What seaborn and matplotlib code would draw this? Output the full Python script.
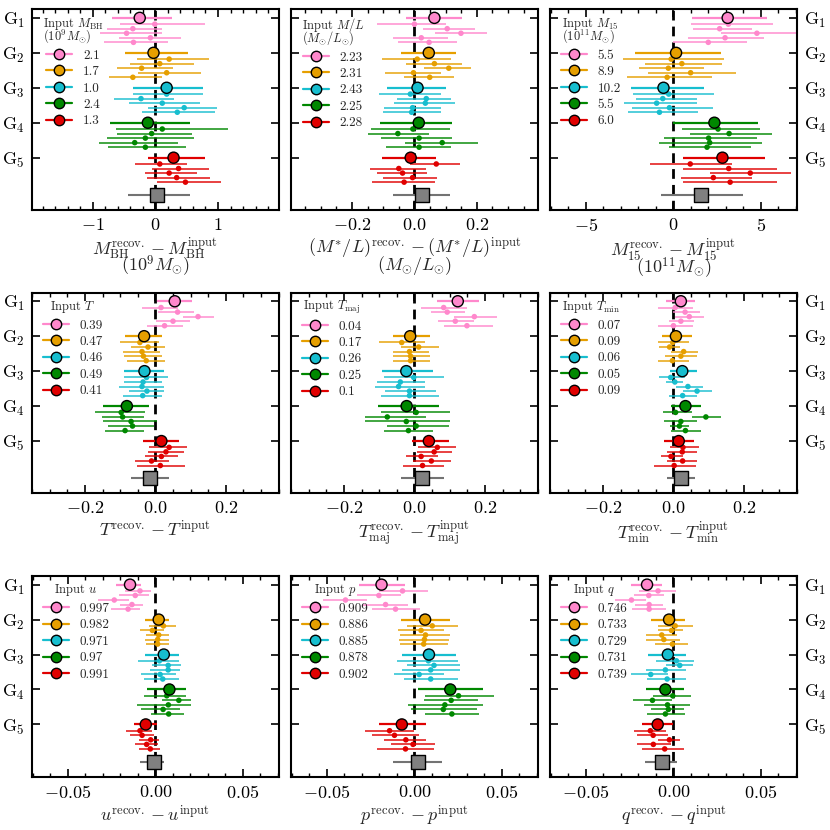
import numpy as np
import pandas as pd
import matplotlib
matplotlib.use("Agg")
import matplotlib.pyplot as plt
import seaborn as sns
from matplotlib.lines import Line2D
from matplotlib.ticker import MultipleLocator

sns.set_theme(style="ticks")
plt.rcParams.update({
    "font.family": "serif",
    "font.serif": ["cmr10"],
    "mathtext.fontset": "cm",
    "axes.formatter.use_mathtext": True,
    "axes.unicode_minus": True,
    "axes.linewidth": 1.5,
    "axes.edgecolor": "black",
})

group_names = [r"$\mathrm{G}_1$", r"$\mathrm{G}_2$", r"$\mathrm{G}_3$", r"$\mathrm{G}_4$", r"$\mathrm{G}_5$"]
group_colors = ["#ff88cc", "#e69f00", "#17becf", "#008800", "#e00000"]

# each row: [group mean, run 1..5]
mbh_val = [[-0.25, -0.01, -0.36, -0.46, -0.08, -0.35],
           [-0.03, 0.22, 0.07, -0.22, 0.18, -0.36],
           [0.18, 0.18, -0.23, 0.11, 0.46, 0.35],
           [-0.12, 0.11, -0.06, -0.16, -0.33, -0.16],
           [0.29, 0.07, 0.37, 0.22, 0.34, 0.48]]
mbh_lo = [[-0.69, -0.56, -0.77, -0.88, -0.58, -0.82],
          [-0.48, -0.29, -0.40, -0.61, -0.28, -0.74],
          [-0.36, -0.36, -0.66, -0.42, -0.12, -0.21],
          [-0.72, -0.63, -0.62, -0.77, -0.90, -0.76],
          [-0.12, -0.33, -0.05, -0.17, -0.14, 0.02]]
mbh_hi = [[0.26, 0.80, 0.11, 0.11, 0.41, 0.20],
          [0.52, 0.86, 0.61, 0.28, 0.73, 0.11],
          [0.76, 0.76, 0.29, 0.71, 0.98, 0.95],
          [0.56, 1.16, 0.59, 0.61, 0.36, 0.49],
          [0.79, 0.51, 0.86, 0.66, 0.88, 1.05]]
mbh_ref = [0.02, -0.44, 0.56]
mbh_inputs = ["2.1", "1.7", "1.0", "2.4", "1.3"]

ml_val = [[0.064, 0.0, 0.105, 0.149, 0.022, 0.047],
          [0.046, 0.009, 0.064, 0.110, -0.003, 0.049],
          [0.010, -0.013, 0.038, 0.035, -0.006, -0.009],
          [0.014, -0.005, -0.053, 0.015, 0.089, 0.015],
          [-0.012, 0.070, -0.050, -0.038, -0.006, -0.033]]
ml_lo = [[-0.026, -0.119, 0.026, 0.065, -0.068, -0.052],
         [-0.044, -0.104, -0.026, 0.030, -0.095, -0.034],
         [-0.087, -0.114, -0.055, -0.066, -0.099, -0.102],
         [-0.109, -0.139, -0.148, -0.107, -0.031, -0.091],
         [-0.103, -0.015, -0.143, -0.121, -0.100, -0.136]]
ml_hi = [[0.153, 0.102, 0.193, 0.233, 0.107, 0.136],
         [0.134, 0.118, 0.153, 0.182, 0.086, 0.127],
         [0.102, 0.086, 0.118, 0.129, 0.084, 0.085],
         [0.121, 0.115, 0.047, 0.121, 0.203, 0.118],
         [0.068, 0.147, 0.038, 0.040, 0.072, 0.065]]
ml_ref = [0.024, -0.068, 0.113]
ml_inputs = ["2.23", "2.31", "2.43", "2.25", "2.28"]

m15_val = [[3.10, 3.14, 2.64, 4.77, 2.95, 1.99],
           [0.15, -0.13, 0.48, -0.29, 0.98, -0.36],
           [-0.57, -0.27, -0.61, -0.96, -0.23, -0.80],
           [2.34, 2.55, 3.18, 2.01, 2.07, 1.92],
           [2.80, 0.96, 3.16, 4.39, 2.28, 3.24]]
m15_lo = [[1.05, 0.98, 1.11, 2.70, 0.84, 0.0],
          [-2.22, -2.91, -1.61, -1.99, -1.48, -2.68],
          [-2.45, -2.34, -2.15, -2.80, -2.38, -2.57],
          [0.0, 0.48, 0.92, -0.56, -0.80, -0.23],
          [0.54, -1.32, 0.57, 2.11, 0.44, 0.57]]
m15_hi = [[5.33, 5.71, 4.48, 7.2, 5.17, 4.23],
          [2.70, 2.87, 2.80, 1.72, 3.60, 2.22],
          [1.72, 2.30, 1.34, 1.34, 2.26, 1.40],
          [4.85, 4.94, 5.61, 4.75, 5.04, 4.43],
          [5.21, 3.37, 5.94, 6.70, 4.48, 5.94]]
m15_ref = [1.57, -0.73, 3.98]
m15_inputs = ["5.5", "8.9", "10.2", "5.5", "6.0"]

t_val = [[0.055, 0.016, 0.063, 0.121, 0.050, 0.026],
         [-0.032, -0.044, -0.021, -0.038, -0.034, -0.026],
         [-0.031, -0.025, -0.035, -0.038, -0.024, -0.036],
         [-0.081, -0.097, -0.093, -0.069, -0.065, -0.086],
         [0.017, 0.039, 0.030, 0.017, -0.011, 0.014]]
t_lo = [[0.005, -0.038, 0.008, 0.079, 0.002, -0.024],
        [-0.086, -0.100, -0.070, -0.092, -0.088, -0.080],
        [-0.088, -0.088, -0.090, -0.103, -0.076, -0.093],
        [-0.150, -0.171, -0.152, -0.148, -0.135, -0.143],
        [-0.034, -0.017, -0.022, -0.030, -0.059, -0.052]]
t_hi = [[0.103, 0.065, 0.110, 0.165, 0.097, 0.078],
        [0.019, 0.010, 0.026, 0.014, 0.019, 0.026],
        [0.024, 0.036, 0.019, 0.024, 0.024, 0.019],
        [-0.017, -0.029, -0.031, 0.005, -0.005, -0.031],
        [0.067, 0.091, 0.081, 0.065, 0.038, 0.083]]
t_ref = [-0.015, -0.069, 0.038]
t_inputs = ["0.39", "0.47", "0.46", "0.49", "0.41"]

tmaj_val = [[0.123, 0.083, 0.093, 0.170, 0.116, 0.149],
            [-0.012, -0.036, 0.012, -0.014, -0.011, -0.011],
            [-0.023, -0.002, -0.040, -0.045, -0.014, -0.014],
            [-0.022, 0.005, -0.077, -0.023, 0.005, -0.017],
            [0.041, 0.065, 0.056, 0.019, 0.048, 0.023]]
tmaj_lo = [[0.064, 0.020, 0.048, 0.111, 0.067, 0.085],
           [-0.062, -0.100, -0.037, -0.062, -0.060, -0.060],
           [-0.091, -0.086, -0.107, -0.112, -0.084, -0.096],
           [-0.103, -0.096, -0.141, -0.141, -0.077, -0.086],
           [-0.008, 0.010, 0.006, -0.024, -0.004, -0.032]]
tmaj_hi = [[0.184, 0.149, 0.144, 0.233, 0.170, 0.223],
           [0.045, 0.031, 0.071, 0.040, 0.043, 0.045],
           [0.054, 0.084, 0.030, 0.031, 0.062, 0.069],
           [0.070, 0.101, 0.034, 0.100, 0.097, 0.052],
           [0.097, 0.119, 0.106, 0.067, 0.104, 0.085]]
tmaj_ref = [0.022, -0.038, 0.084]
tmaj_inputs = ["0.04", "0.17", "0.26", "0.25", "0.1"]

tmin_val = [[0.021, 0.005, 0.033, 0.045, 0.021, 0.0],
            [0.007, -0.002, -0.011, 0.029, 0.021, -0.003],
            [0.025, -0.008, 0.004, 0.041, 0.067, 0.026],
            [0.034, 0.006, 0.092, 0.021, 0.017, 0.034],
            [0.015, 0.027, 0.025, -0.007, 0.026, 0.002]]
tmin_lo = [[-0.021, -0.043, 0.0, 0.005, -0.014, -0.043],
           [-0.033, -0.043, -0.040, -0.008, -0.024, -0.043],
           [-0.011, -0.040, -0.021, 0.008, 0.028, -0.012],
           [-0.006, -0.030, 0.053, -0.026, -0.009, -0.006],
           [-0.026, -0.011, -0.017, -0.036, -0.017, -0.055]]
tmin_hi = [[0.062, 0.055, 0.074, 0.087, 0.058, 0.055],
           [0.053, 0.045, 0.019, 0.071, 0.068, 0.044],
           [0.068, 0.033, 0.028, 0.085, 0.110, 0.066],
           [0.079, 0.052, 0.134, 0.068, 0.045, 0.078],
           [0.057, 0.072, 0.066, 0.026, 0.068, 0.064]]
tmin_ref = [0.021, -0.019, 0.062]
tmin_inputs = ["0.07", "0.09", "0.06", "0.05", "0.09"]

u_val = [[-0.0145, -0.0088, -0.0115, -0.0235, -0.0134, -0.0156],
         [0.0019, 0.0046, -0.0017, 0.0019, 0.0013, 0.0013],
         [0.0048, 0.0023, 0.0073, 0.0073, 0.0027, 0.0042],
         [0.0080, 0.0065, 0.0134, 0.0074, 0.0044, 0.0076],
         [-0.0055, -0.0088, -0.0076, -0.0027, -0.0050, -0.0029]]
u_lo = [[-0.0225, -0.0172, -0.0206, -0.0330, -0.0204, -0.0254],
        [-0.0057, -0.0034, -0.0088, -0.0052, -0.0057, -0.0053],
        [-0.0061, -0.0101, -0.0019, -0.0032, -0.0084, -0.0067],
        [-0.0048, -0.0065, 0.0038, -0.0105, -0.0080, -0.0023],
        [-0.0124, -0.0166, -0.0143, -0.0095, -0.0118, -0.0095]]
u_hi = [[-0.0080, -0.0023, -0.0038, -0.0149, -0.0073, -0.0086],
        [0.0080, 0.0115, 0.0050, 0.0080, 0.0076, 0.0080],
        [0.0137, 0.0134, 0.0149, 0.0139, 0.0115, 0.0137],
        [0.0176, 0.0177, 0.0206, 0.0206, 0.0143, 0.0162],
        [0.0010, -0.0019, -0.0010, 0.0023, 0.0015, 0.0029]]
u_ref = [-0.0010, -0.0090, 0.0052]
u_inputs = ["0.997", "0.982", "0.971", "0.97", "0.991"]

p_val = [[-0.0188, -0.0068, -0.0203, -0.0394, -0.0165, -0.0108],
         [0.0061, 0.0102, 0.0038, 0.0063, 0.0057, 0.0053],
         [0.0083, 0.0080, 0.0112, 0.0093, 0.0027, 0.0093],
         [0.0205, 0.0252, 0.0210, 0.0174, 0.0165, 0.0214],
         [-0.0072, -0.0142, -0.0114, -0.0049, -0.0008, -0.0051]]
p_lo = [[-0.0318, -0.0205, -0.0326, -0.0523, -0.0292, -0.0244],
        [-0.0078, -0.0040, -0.0093, -0.0080, -0.0089, -0.0083],
        [-0.0072, -0.0102, -0.0042, -0.0072, -0.0117, -0.0059],
        [0.0023, 0.0063, 0.0053, -0.0036, -0.0017, 0.0061],
        [-0.0201, -0.0282, -0.0241, -0.0172, -0.0134, -0.0216]]
p_hi = [[-0.0053, 0.0076, -0.0074, -0.0269, -0.0036, 0.0030],
        [0.0201, 0.0250, 0.0167, 0.0205, 0.0197, 0.0191],
        [0.0235, 0.0250, 0.0261, 0.0258, 0.0167, 0.0248],
        [0.0394, 0.0456, 0.0366, 0.0390, 0.0356, 0.0371],
        [0.0068, -0.0004, 0.0025, 0.0068, 0.0117, 0.0110]]
p_ref = [0.0019, -0.0121, 0.0157]
p_inputs = ["0.909", "0.886", "0.885", "0.878", "0.902"]

q_val = [[-0.0151, -0.0088, -0.0141, -0.0240, -0.0139, -0.0139],
         [-0.0025, 0.0010, -0.0011, -0.0067, -0.0055, -0.0006],
         [-0.0032, 0.0017, 0.0036, -0.0046, -0.0130, -0.0036],
         [-0.0046, -0.0004, -0.0120, -0.0034, -0.0029, -0.0046],
         [-0.0090, -0.0132, -0.0116, -0.0023, -0.0115, -0.0050]]
q_lo = [[-0.0244, -0.0198, -0.0225, -0.0332, -0.0218, -0.0235],
        [-0.0126, -0.0088, -0.0088, -0.0158, -0.0158, -0.0107],
        [-0.0145, -0.0097, -0.0044, -0.0158, -0.0242, -0.0149],
        [-0.0155, -0.0116, -0.0231, -0.0170, -0.0130, -0.0153],
        [-0.0179, -0.0227, -0.0208, -0.0086, -0.0208, -0.0177]]
q_hi = [[-0.0063, 0.0017, -0.0055, -0.0158, -0.0059, -0.0044],
        [0.0065, 0.0109, 0.0055, 0.0021, 0.0040, 0.0086],
        [0.0069, 0.0116, 0.0109, 0.0074, -0.0031, 0.0069],
        [0.0059, 0.0103, -0.0011, 0.0097, 0.0061, 0.0065],
        [-0.0002, -0.0040, -0.0031, 0.0038, -0.0015, 0.0061]]
q_ref = [-0.0067, -0.0164, 0.0021]
q_inputs = ["0.746", "0.733", "0.729", "0.731", "0.739"]

panels = [
    (mbh_val, mbh_lo, mbh_hi, mbh_ref, mbh_inputs,
     "Input $M_{\\rm BH}$\n$(10^9 M_{\\odot})$",
     "$M_{\\rm BH}^{\\rm recov.} - M_{\\rm BH}^{\\rm input}$\n$(10^9 M_{\\odot})$",
     1.97, 1.0, 0.2),
    (ml_val, ml_lo, ml_hi, ml_ref, ml_inputs,
     "Input $M/L$\n$(M_{\\odot}/L_{\\odot})$",
     "$(M^{*}/L)^{\\rm recov.} - (M^{*}/L)^{\\rm input}$\n$(M_{\\odot}/L_{\\odot})$",
     0.395, 0.2, 0.05),
    (m15_val, m15_lo, m15_hi, m15_ref, m15_inputs,
     "Input $M_{15}$\n$(10^{11} M_{\\odot})$",
     "$M_{15}^{\\rm recov.} - M_{15}^{\\rm input}$\n$(10^{11} M_{\\odot})$",
     7.05, 5.0, 1.0),
    (t_val, t_lo, t_hi, t_ref, t_inputs, "Input $T$",
     "$T^{\\rm recov.} - T^{\\rm input}$", 0.35, 0.2, 0.05),
    (tmaj_val, tmaj_lo, tmaj_hi, tmaj_ref, tmaj_inputs, "Input $T_{\\rm maj}$",
     "$T_{\\rm maj}^{\\rm recov.} - T_{\\rm maj}^{\\rm input}$", 0.35, 0.2, 0.05),
    (tmin_val, tmin_lo, tmin_hi, tmin_ref, tmin_inputs, "Input $T_{\\rm min}$",
     "$T_{\\rm min}^{\\rm recov.} - T_{\\rm min}^{\\rm input}$", 0.35, 0.2, 0.05),
    (u_val, u_lo, u_hi, u_ref, u_inputs, "Input $u$",
     "$u^{\\rm recov.} - u^{\\rm input}$", 0.0705, 0.05, 0.01),
    (p_val, p_lo, p_hi, p_ref, p_inputs, "Input $p$",
     "$p^{\\rm recov.} - p^{\\rm input}$", 0.0705, 0.05, 0.01),
    (q_val, q_lo, q_hi, q_ref, q_inputs, "Input $q$",
     "$q^{\\rm recov.} - q^{\\rm input}$", 0.0705, 0.05, 0.01),
]


def panel_frame(val, lo, hi):
    rows = []
    for g in range(5):
        for k in range(6):
            y = g if k == 0 else g + 0.18 + 0.13 * (k - 1)
            rows.append({"x": val[g][k], "lo": lo[g][k], "hi": hi[g][k], "y": y,
                         "group": g, "mean": k == 0})
    return pd.DataFrame(rows)


fig, axes = plt.subplots(3, 3, figsize=(8.3, 8.3), dpi=100)
fig.subplots_adjust(left=0.0386, right=0.960, top=0.989, bottom=0.064,
                    wspace=0.05, hspace=0.41)

for i, (ax, spec) in enumerate(zip(axes.flat, panels)):
    val, lo, hi, ref, inputs, title, xlabel, xmax, major, minor = spec
    df = panel_frame(val, lo, hi)
    runs = df[~df["mean"]]
    means = df[df["mean"]]

    ax.axvline(0, color="black", ls="--", lw=2, dashes=(3.5, 2.2), zorder=1)

    for _, r in runs.iterrows():
        ax.hlines(r["y"], r["lo"], r["hi"], color=group_colors[int(r["group"])],
                  lw=1.3, alpha=0.8, zorder=2)
    for _, r in means.iterrows():
        ax.hlines(r["y"], r["lo"], r["hi"], color=group_colors[int(r["group"])],
                  lw=1.6, zorder=2)

    sns.scatterplot(data=runs, x="x", y="y", hue="group", palette=group_colors,
                    s=16, linewidth=0, legend=False, ax=ax, zorder=3)
    sns.scatterplot(data=means, x="x", y="y", hue="group", palette=group_colors,
                    s=64, edgecolor="black", linewidth=1.0, legend=False, ax=ax, zorder=4)

    ax.hlines(5.07, ref[1], ref[2], color="0.45", lw=1.5, zorder=2)
    ax.scatter([ref[0]], [5.07], marker="s", s=100, color="0.5",
               edgecolor="black", linewidth=1.0, zorder=4)

    ax.set_xlim(-xmax, xmax)
    ax.set_ylim(5.5, -0.25)
    ax.xaxis.set_major_locator(MultipleLocator(major))
    ax.xaxis.set_minor_locator(MultipleLocator(minor))
    ax.set_yticks(range(5))
    ax.set_yticklabels(group_names)
    ax.set_xlabel(xlabel, fontsize=13, linespacing=0.55, labelpad=2)
    ax.set_ylabel("")
    ax.tick_params(axis="both", which="both", direction="in", top=True, right=True,
                   labelsize=13, color="black", labelcolor="black")
    ax.tick_params(axis="both", which="major", length=6, width=1.2, pad=5)
    ax.tick_params(axis="x", which="minor", length=3, width=1.0)
    ax.tick_params(axis="y", which="minor", left=False, right=False)
    col = i % 3
    if col == 0:
        ax.tick_params(axis="y", labelleft=True, labelright=False)
    elif col == 1:
        ax.tick_params(axis="y", labelleft=False, labelright=False)
    else:
        ax.tick_params(axis="y", labelleft=False, labelright=True)
    ax.grid(False)

    handles = [Line2D([0], [0], color=c, lw=1.6, marker="o", markersize=7.5,
                      markerfacecolor=c, markeredgecolor="black", markeredgewidth=1.0)
               for c in group_colors]
    leg = ax.legend(handles, inputs, title=title, loc="upper left", frameon=False,
                    fontsize=9.5, title_fontsize=9, handlelength=2.0,
                    handletextpad=0.8, labelspacing=0.32,
                    borderaxespad=0.5, borderpad=0.3,
                    bbox_to_anchor=(0.0, 1.02))
    leg.get_title().set_linespacing(0.65)

fig.savefig("out.png", dpi=100)
